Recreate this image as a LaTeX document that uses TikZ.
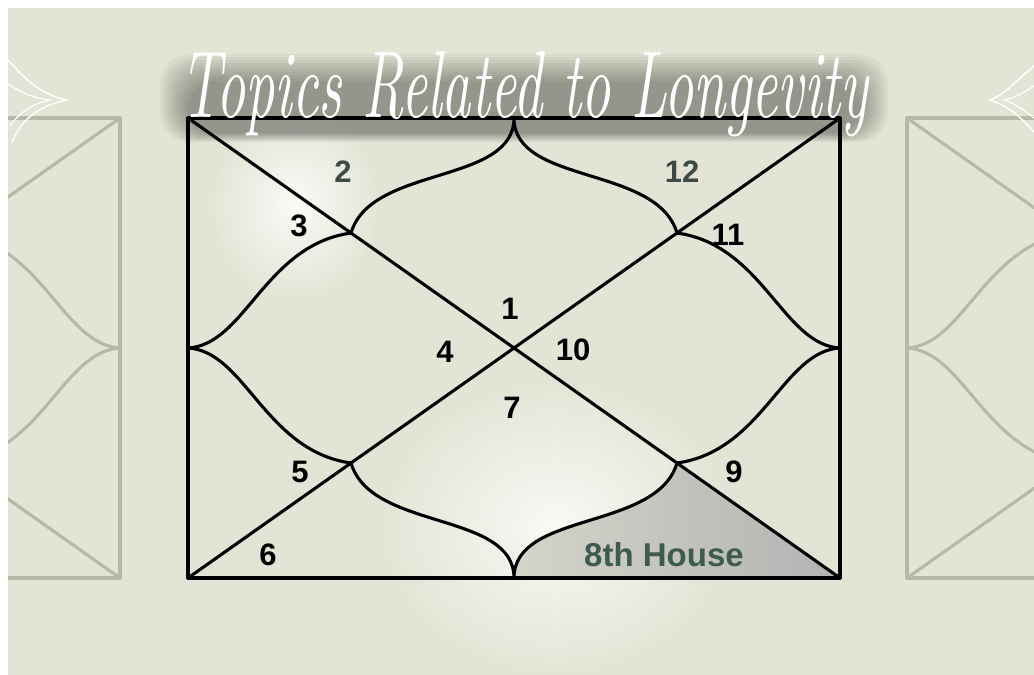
\documentclass[tikz,border=0pt]{standalone}
\usepackage{fontspec}
\newfontfamily\numfont{Liberation Sans}
\usetikzlibrary{fadings}

\definecolor{paper}{HTML}{E4E4D6}
\definecolor{ghost}{HTML}{B8B8A6}
\definecolor{mist}{HTML}{3D4A45}
\definecolor{housegreen}{HTML}{3F5B50}

\tikzfading[name=glow, inner color=transparent!0, outer color=transparent!100]

\tikzset{
  chartline/.style={line width=3.1pt, line join=round},
  housenum/.style={font=\numfont\bfseries\fontsize{31}{31}\selectfont, inner sep=0pt},
}

% the chart, 652 x 460, origin at its top left corner
\newcommand{\chartlines}[1]{%
  \draw[chartline, #1] (0,0) rectangle (652,460);
  \draw[chartline, #1] (0,0) -- (652,460);
  \draw[chartline, #1] (652,0) -- (0,460);
  % top and bottom cusps
  \draw[chartline, #1] (163,115) .. controls (183,47) and (326,67) .. (326,0)
     .. controls (326,67) and (469,47) .. (489,115);
  \draw[chartline, #1] (163,345) .. controls (183,413) and (326,393) .. (326,460)
     .. controls (326,393) and (469,413) .. (489,345);
  % left and right cusps
  \draw[chartline, #1] (163,115) .. controls (77,127) and (57,227) .. (0,230)
     .. controls (57,233) and (77,333) .. (163,345);
  \draw[chartline, #1] (489,115) .. controls (575,127) and (595,227) .. (652,230)
     .. controls (595,233) and (575,333) .. (489,345);
}

\begin{document}
\begin{tikzpicture}[x=1pt,y=-1pt]
    \useasboundingbox (0,0) rectangle (1034,675);
    \fill[white] (0,0) rectangle (1034,675);
    \fill[paper] (8,8) rectangle (1034,675);

    % glare
    \fill[white, opacity=.85, path fading=glow] (210,110) rectangle (380,300);
    \fill[white, opacity=.8, path fading=glow] (380,380) rectangle (730,675);

    % faded charts on both sides
    \begin{scope}
        \clip (8,8) rectangle (1034,675);
        \begin{scope}[shift={(-532,118)}]
            \chartlines{ghost}
        \end{scope}
        \begin{scope}[shift={(907,118)}]
            \chartlines{ghost}
        \end{scope}
    \end{scope}

    % main chart
    \begin{scope}[shift={(188,118)}]
        \shade[left color=ghost!60!white, middle color=yellow!10!white, right color=black!30]
            (326,460) .. controls (326,393) and (469,413) .. (489,345) -- (652,460) -- cycle;
        \chartlines{black}
    \end{scope}

    \node[housenum] (h1) at (510,309) {1};
    \node[housenum, text=mist] (h2) at (343,172) {2};
    \node[housenum] (h3) at (299,226) {3};
    \node[housenum] (h4) at (445,352) {4};
    \node[housenum] (h5) at (300,472) {5};
    \node[housenum] (h6) at (268,555) {6};
    \node[housenum] (h7) at (512,408) {7};
    \node[housenum, text=housegreen, font=\numfont\bfseries\fontsize{33}{33}\selectfont] (h8) at (664,555) {8th House};
    \node[housenum] (h9) at (734,472) {9};
    \node[housenum] (h10) at (573,350) {10};
    \node[housenum] (h11) at (728,235) {11};
    \node[housenum, text=mist] (h12) at (682,172) {12};

    % dark haze behind the title
    \foreach \i in {1,...,10}
        \fill[black, opacity=.04, rounded corners=30pt] (190-3*\i,84-3*\i) rectangle (858+3*\i,132+\i);

    % flourishes
    \draw[white, line width=1.4pt] (8,60) .. controls (30,85) and (45,95) .. (66,100)
        .. controls (40,106) and (22,118) .. (12,142);
    \draw[white, line width=1.2pt] (8,84) .. controls (24,94) and (34,98) .. (50,100)
        .. controls (32,104) and (20,112) .. (10,126);
    \draw[white, line width=1.4pt] (1034,66) .. controls (1015,82) and (1005,94) .. (990,100)
        .. controls (1008,106) and (1020,116) .. (1034,132);
    \draw[white, line width=1.2pt] (1034,86) .. controls (1022,94) and (1014,98) .. (1004,100)
        .. controls (1016,104) and (1024,110) .. (1034,118);

    \node[anchor=base west, inner sep=0pt, text=white] (title) at (180,117)
        {\resizebox{688pt}{66pt}{\itshape Topics Related to Longevity}};
\end{tikzpicture}
\end{document}
